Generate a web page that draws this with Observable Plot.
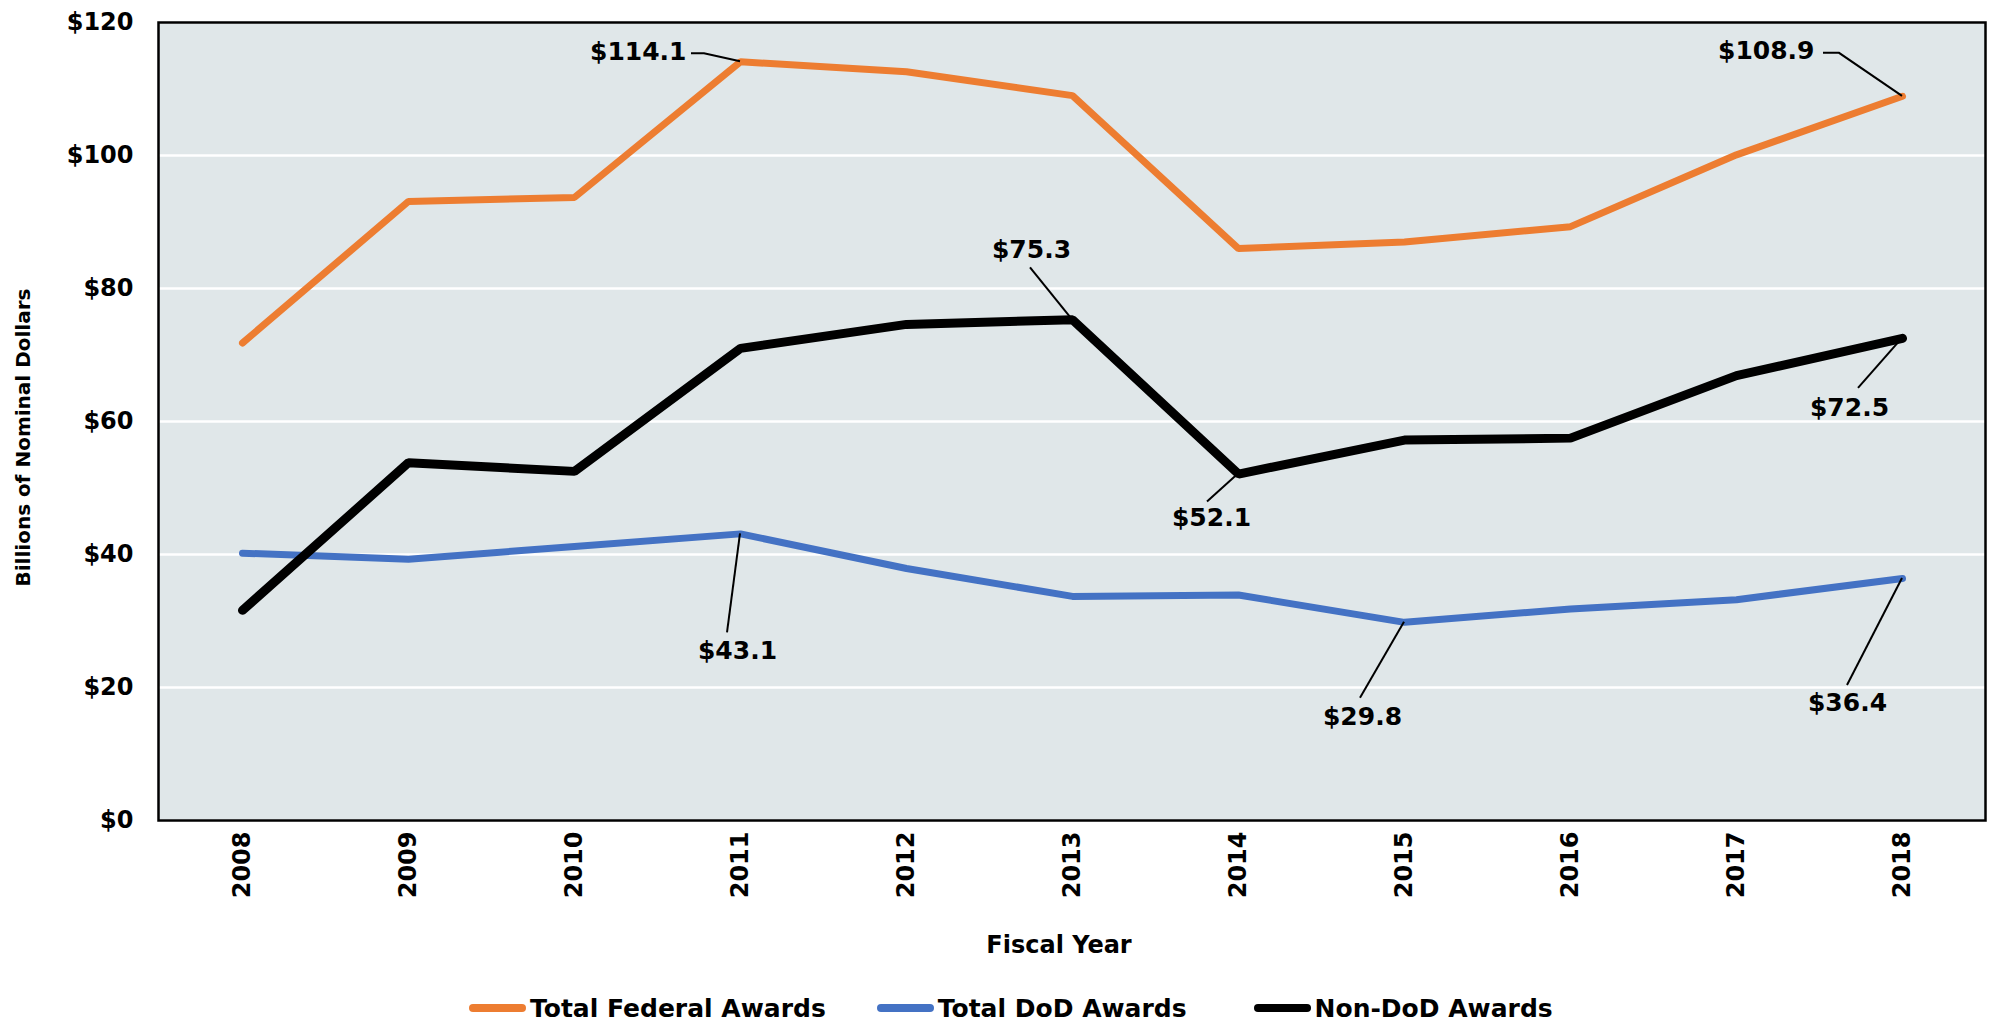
<!DOCTYPE html>
<html><head><meta charset="utf-8">
<script src="https://cdn.jsdelivr.net/npm/d3@7"></script>
<script src="https://cdn.jsdelivr.net/npm/@observablehq/plot@0.6"></script>
<style>
body{margin:0;background:#fff;font-family:"DejaVu Sans",sans-serif;font-weight:bold;}
#legend{display:flex;align-items:center;height:36px;padding-left:469px;font-size:25px;color:#000;}
.item{display:flex;align-items:center;white-space:nowrap;}
.sw{display:inline-block;width:57px;height:8px;border-radius:4px;margin-right:4px;}
</style></head><body><div id="chart"></div><div id="legend"></div>
<script>
// ---- data ----
const years = [2008, 2009, 2010, 2011, 2012, 2013, 2014, 2015, 2016, 2017, 2018];
const totalFederal = [71.8, 93.1, 93.7, 114.1, 112.6, 109.0, 86.0, 87.0, 89.3, 100.1, 108.9];
const totalDoD = [40.2, 39.3, 41.2, 43.1, 37.9, 33.7, 33.9, 29.8, 31.8, 33.2, 36.4];
const nonDoD = [31.6, 53.8, 52.5, 71.0, 74.6, 75.3, 52.1, 57.2, 57.5, 66.9, 72.5];
const seriesNames = ["Total Federal Awards", "Total DoD Awards", "Non-DoD Awards"];
const yTicks = [0, 20, 40, 60, 80, 100, 120];
const xTitle = "Fiscal Year";
const yTitle = "Billions of Nominal Dollars";
// annotated points: series index, year
const annotated = [
  {s: 0, year: 2011}, {s: 0, year: 2018},
  {s: 2, year: 2013}, {s: 2, year: 2014}, {s: 2, year: 2018},
  {s: 1, year: 2011}, {s: 1, year: 2015}, {s: 1, year: 2018}
];

// ---- styling / layout (not data) ----
const colors = ["#ED7D31", "#4472C4", "#000000"];
const widths = [7, 7, 9];
const legendGaps = [51, 67, 0];
// label offsets (px) relative to the annotated point, and leader path offsets
const labelLayout = [
  {dx: -54, dy: -10, anchor: "end", path: [[-36, -8], [-49, -8]]},
  {dx: -88, dy: -45, anchor: "end", path: [[-63, -43], [-79, -43]]},
  {dx: -41, dy: -70, anchor: "middle", path: [[-42, -52]]},
  {dx: -27, dy: 44, anchor: "middle", path: [[-31, 28]]},
  {dx: -53, dy: 70, anchor: "middle", path: [[-44, 50]]},
  {dx: -3, dy: 117, anchor: "middle", path: [[-13, 99]]},
  {dx: -42, dy: 95, anchor: "middle", path: [[-44, 76]]},
  {dx: -55, dy: 125, anchor: "middle", path: [[-55, 107]]}
];

const seriesValues = [totalFederal, totalDoD, nonDoD];
const rows = seriesNames.map((name, i) => years.map((yr, j) => ({series: name, year: yr, value: seriesValues[i][j]})));
const annRows = annotated.map(a => {
  const v = seriesValues[a.s][years.indexOf(a.year)];
  return {year: a.year, value: v, text: "$" + v.toFixed(1)};
});

const leaderMark = (index, scales) => {
  const g = d3.create("svg:g");
  annRows.forEach((a, i) => {
    const x0 = scales.x(a.year), y0 = scales.y(a.value);
    const pts = [[x0, y0], ...labelLayout[i].path.map(([dx, dy]) => [x0 + dx, y0 + dy])];
    g.append("path").attr("d", d3.line()(pts)).attr("fill", "none")
      .attr("stroke", "#000").attr("stroke-width", 2);
  });
  return g.node();
};

const W = 1989, H = 990;
const plot = Plot.plot({
  width: W, height: H,
  marginLeft: 158, marginRight: 4, marginTop: 22, marginBottom: H - 820,
  style: {fontFamily: "DejaVu Sans, sans-serif", fontWeight: "bold", color: "#000", background: "#fff"},
  x: {type: "point", domain: years, padding: 0.5},
  y: {domain: [0, 120]},
  marks: [
    Plot.frame({fill: "#E0E7E9", stroke: null}),
    Plot.gridY({ticks: yTicks, stroke: "#fff", strokeOpacity: 1, strokeWidth: 2.5}),
    ...rows.map((r, i) => Plot.line(r, {x: "year", y: "value", stroke: colors[i], strokeWidth: widths[i], strokeLinecap: "round", strokeLinejoin: "miter"})),
    leaderMark,
    ...annRows.map((a, i) => Plot.text([a], {x: "year", y: "value", text: "text", dx: labelLayout[i].dx, dy: labelLayout[i].dy, textAnchor: labelLayout[i].anchor, lineAnchor: "middle", fontSize: 25, fontWeight: "bold", fill: "#000"})),
    Plot.frame({stroke: "#000", strokeWidth: 2.5}),
    Plot.axisY({ticks: yTicks, tickSize: 0, tickPadding: 25, tickFormat: d => "$" + d, fontSize: 24, label: null}),
    Plot.axisX({tickSize: 0, tickPadding: 11, tickRotate: -90, tickFormat: d => String(d), fontSize: 24, label: null}),
    Plot.text([xTitle], {frameAnchor: "bottom", text: d => d, dy: 125, dx: -13, textAnchor: "middle", lineAnchor: "middle", fontSize: 24, fontWeight: "bold"}),
    Plot.text([yTitle], {frameAnchor: "left", text: d => d, dx: -135, dy: 16, rotate: -90, textAnchor: "middle", lineAnchor: "middle", fontSize: 20, fontWeight: "bold"})
  ]
});
document.getElementById("chart").appendChild(plot);

const legend = document.getElementById("legend");
seriesNames.forEach((name, i) => {
  const it = document.createElement("div");
  it.className = "item";
  it.style.marginRight = legendGaps[i] + "px";
  const sw = document.createElement("span");
  sw.className = "sw"; sw.style.background = colors[i];
  it.appendChild(sw);
  it.appendChild(document.createTextNode(name));
  legend.appendChild(it);
});
</script></body></html>
